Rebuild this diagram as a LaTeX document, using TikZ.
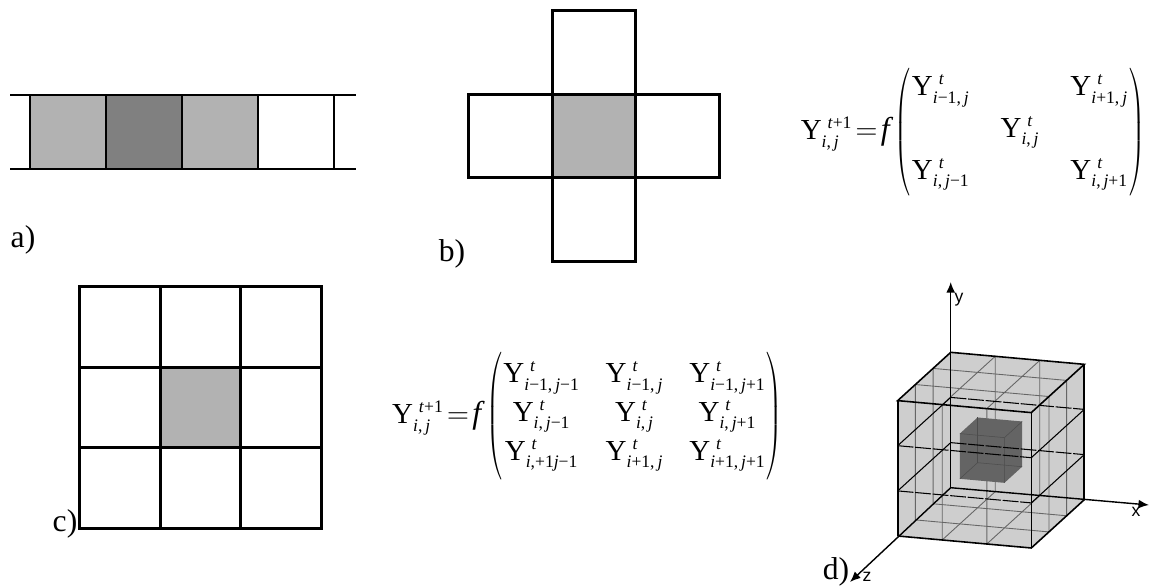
\documentclass[tikz,border=0pt]{standalone}
\usepackage{fontspec}
\setmainfont{Liberation Serif}
\setsansfont{Liberation Sans}
\usepackage{amsmath}
\usetikzlibrary{arrows.meta,positioning}
\definecolor{celllight}{RGB}{178,178,178}
\definecolor{celldark}{RGB}{128,128,128}
\definecolor{cubelight}{RGB}{206,206,206}
\definecolor{cubedark}{RGB}{100,100,100}
\newcommand{\scr}[1]{\mbox{\fontsize{10}{10}\selectfont #1}}
\newcommand{\Yt}[2]{\mathrm{Y}^{\;\scr{#1}}_{\scr{#2}}}
\newcommand{\vi}{\textit{i}}
\newcommand{\vj}{\textit{j}}
\newcommand{\vt}{\textit{t}}
\newcommand{\fsym}{\mbox{\fontsize{18}{18}\selectfont\itshape f}}
\newcommand{\lparen}{\scalebox{0.6}[1]{$\left(\vcenter{\hbox{\rule{0pt}{74pt}}}\right.$}}
\newcommand{\rparen}{\scalebox{0.6}[1]{$\left.\vcenter{\hbox{\rule{0pt}{74pt}}}\right)$}}
\tikzset{
    rowline/.style={line width=1.2pt},
    thickline/.style={line width=1.7pt},
    tagtext/.style={inner sep=0pt, font=\fontsize{18}{20}\selectfont},
    axistext/.style={inner sep=0pt, font=\sffamily\fontsize{10}{12}\selectfont},
    eqntext/.style={inner sep=0pt, font=\fontsize{16.5}{18}\selectfont},
    rowcell/.style={draw, rowline, minimum width=1.52cm, minimum height=1.48cm, outer sep=0pt, inner sep=0pt},
    crosscell/.style={draw, thickline, minimum size=1.67cm, outer sep=0pt, inner sep=0pt},
    gridcell/.style={draw, thickline, minimum size=1.61cm, outer sep=0pt, inner sep=0pt},
    axisarrow/.style={-{Latex[length=6pt,width=5pt]}, line width=0.8pt},
    gridthin/.style={line width=0.5pt, black!60},
    slice/.style={line width=0.6pt, black},
    cubeedge/.style={line width=0.9pt, black},
    inneredge/.style={line width=0.3pt, black!70}
}
\begin{document}
\begin{tikzpicture}[x=0.02cm,y=-0.02cm]
    \useasboundingbox (0,0) rectangle (1149,587);

    % a) row
    \node[rowcell, fill=celllight] (rowa) at (68,132) {};
    \node[rowcell, fill=celldark, right=0pt of rowa] (rowb) {};
    \node[rowcell, fill=celllight, right=0pt of rowb] (rowc) {};
    \node[rowcell, right=0pt of rowc] (rowd) {};
    \coordinate (rowtl) at (10,95);
    \coordinate (rowtr) at (356,95);
    \coordinate (rowbl) at (10,169);
    \coordinate (rowbr) at (356,169);
    \draw[rowline] (rowtl) -- (rowtr);
    \draw[rowline] (rowbl) -- (rowbr);
    \node[tagtext] (taga) at (23,240) {a)};

    % b) cross
    \node[crosscell, fill=celllight] (crossc) at (594,136) {};
    \node[crosscell, above=0pt of crossc] (crosst) {};
    \node[crosscell, below=0pt of crossc] (crossb) {};
    \node[crosscell, left=0pt of crossc] (crossl) {};
    \node[crosscell, right=0pt of crossc] (crossr) {};
    \node[tagtext] (tagb) at (452,254) {b)};

    % b) equation
    \node[eqntext] (eqnb) at (973,132) {$\Yt{\vt+1}{\vi,\,\vj}\!=\!\fsym\,\lparen\begin{array}{@{}l@{\hspace{0.62cm}}c@{\hspace{0.62cm}}l@{}}
        \Yt{\vt}{\vi−1,\,\vj} & & \Yt{\vt}{\vi+1,\,\vj}\\[0.2cm]
        & \Yt{\vt}{\vi,\,\vj} & \\[0.2cm]
        \Yt{\vt}{\vi,\,\vj−1} & & \Yt{\vt}{\vi,\,\vj+1}
    \end{array}\rparen$};

    % c) grid
    \node[gridcell, fill=celllight] (gridc) at (200.5,407.5) {};
    \node[gridcell, above=0pt of gridc] (gridt) {};
    \node[gridcell, below=0pt of gridc] (gridb) {};
    \node[gridcell, left=0pt of gridc] (gridl) {};
    \node[gridcell, right=0pt of gridc] (gridr) {};
    \node[gridcell, left=0pt of gridt] (gridtl) {};
    \node[gridcell, right=0pt of gridt] (gridtr) {};
    \node[gridcell, left=0pt of gridb] (gridbl) {};
    \node[gridcell, right=0pt of gridb] (gridbr) {};
    \node[tagtext] (tagc) at (65,524) {c)};

    % c) equation
    \node[eqntext] (eqnc) at (587.5,416) {$\Yt{\vt+1}{\vi,\,\vj}\!=\!\fsym\,\lparen\begin{array}{@{}c@{\hspace{0.52cm}}c@{\hspace{0.52cm}}c@{}}
        \Yt{\vt}{\vi−1,\,\vj−1} & \Yt{\vt}{\vi−1,\,\vj} & \Yt{\vt}{\vi−1,\,\vj+1}\\[0.14cm]
        \Yt{\vt}{\vi,\,\vj−1} & \Yt{\vt}{\vi,\,\vj} & \Yt{\vt}{\vi,\,\vj+1}\\[0.14cm]
        \Yt{\vt}{\vi,+1\vj−1} & \Yt{\vt}{\vi+1,\,\vj} & \Yt{\vt}{\vi+1,\,\vj+1}
    \end{array}\rparen$};

    % d) cube
    \begin{scope}[shift={(950.7,487.7)},x={(2.672cm,-0.24cm)},y={(0cm,2.708cm)},z={(-1.06cm,-0.966cm)}]
        \fill[cubelight] (0,0,1) -- (1,0,1) -- (1,0,0) -- (1,1,0) -- (0,1,0) -- (0,1,1) -- cycle;
        % thin lines
        \foreach \t in {0.333,0.667} {
            \draw[gridthin] (\t,1,0) -- (\t,1,1) -- (\t,0,1) -- (\t,0,0) -- cycle;
            \draw[gridthin] (0,1,\t) -- (1,1,\t) -- (1,0,\t) -- (0,0,\t) -- cycle;
        }
        % inner cube
        \fill[cubedark] (0.333,0.333,0.667) -- (0.667,0.333,0.667) -- (0.667,0.333,0.333) -- (0.667,0.667,0.333) -- (0.333,0.667,0.333) -- (0.333,0.667,0.667) -- cycle;
        \draw[inneredge] (0.333,0.667,0.667) -- (0.667,0.667,0.667) -- (0.667,0.333,0.667);
        \draw[inneredge] (0.667,0.667,0.667) -- (0.667,0.667,0.333);
        \draw[inneredge] (0.333,0.333,0.667) -- (0.333,0.333,0.333) -- (0.667,0.333,0.333);
        \draw[inneredge] (0.333,0.333,0.333) -- (0.333,0.667,0.333);
        % slices
        \foreach \t in {0.333,0.667} {
            \draw[slice] (0,\t,0) -- (0,\t,1);
            \draw[slice] (1,\t,1) -- (1,\t,0);
            \draw[slice, dash pattern=on 9pt off 1pt] (0,\t,1) -- (1,\t,1);
            \draw[slice, dash pattern=on 9pt off 1pt] (0,\t,0) -- (1,\t,0);
        }
        % outer edges
        \draw[cubeedge] (0,1,1) -- (1,1,1) -- (1,1,0) -- (0,1,0) -- cycle;
        \draw[cubeedge] (0,0,1) -- (1,0,1) -- (1,0,0);
        \draw[cubeedge] (0,0,1) -- (0,1,1);
        \draw[cubeedge] (1,0,1) -- (1,1,1);
        \draw[cubeedge] (1,0,0) -- (1,1,0);
        \coordinate (origin) at (0,0,0);
    \end{scope}
    \coordinate (xend) at (1149,505);
    \coordinate (yend) at (950.7,282);
    \coordinate (zend) at (850,582);
    \draw[axisarrow] (origin) -- (xend);
    \draw[axisarrow] (origin) -- (yend);
    \draw[axisarrow] (origin) -- (zend);
    \node[axistext] (xlabel) at (1136,512) {x};
    \node[axistext] (ylabel) at (959,300) {y};
    \node[axistext] (zlabel) at (867,577) {z};
    \node[tagtext] (tagd) at (836,572) {d)};
\end{tikzpicture}
\end{document}
